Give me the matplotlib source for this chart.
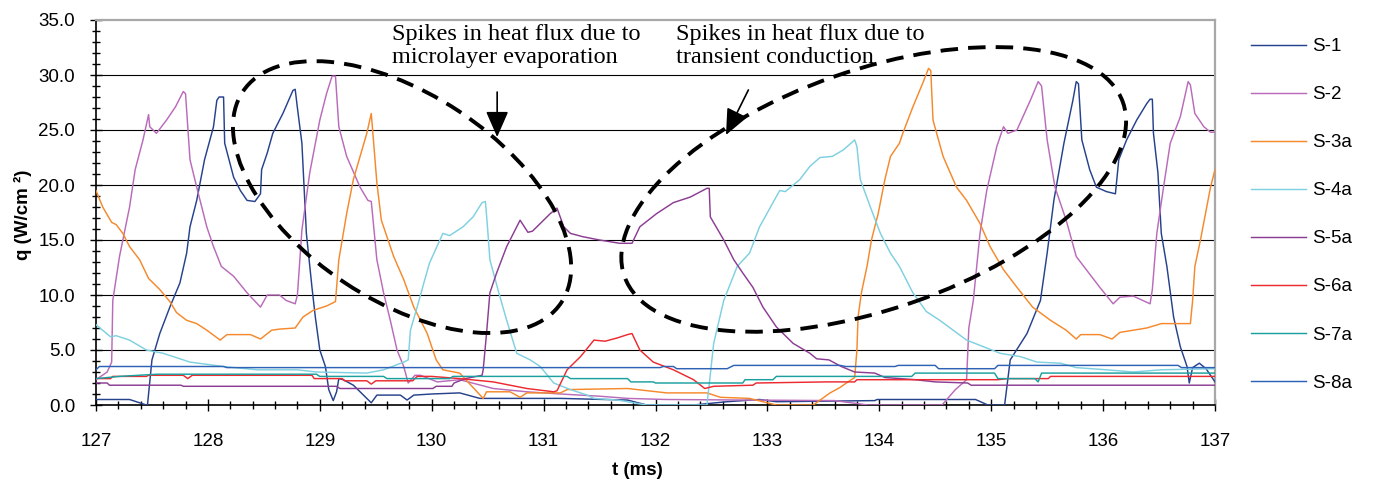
import matplotlib
matplotlib.use('Agg')
import matplotlib.pyplot as plt
from matplotlib.patches import Ellipse
from matplotlib.ticker import MultipleLocator, FormatStrFormatter
from matplotlib.transforms import ScaledTranslation

OUT_FILE = 'out.png'

# heat flux traces, t in ms, q in W/cm2
s1_t = [127.0, 127.30, 127.36, 127.45, 127.46, 127.50, 127.57, 127.66, 127.75, 127.81, 127.84, 127.90,
        127.97, 128.05, 128.08, 128.10, 128.14, 128.15, 128.23, 128.29, 128.35, 128.42, 128.47, 128.48,
        128.53, 128.58, 128.67, 128.76, 128.78, 128.80, 128.84, 128.88, 128.93, 128.96, 129.00, 129.05,
        129.08, 129.12, 129.15, 129.17, 129.21, 129.30, 129.46, 129.51, 129.72, 129.78, 129.84, 130.00,
        130.25, 130.43, 131.15, 131.75, 131.92, 132.34, 132.64, 132.93, 133.08, 133.96, 133.98, 134.86,
        134.97, 135.12, 135.17, 135.32, 135.44, 135.50, 135.56, 135.65, 135.73, 135.76, 135.78, 135.81,
        135.88, 135.94, 136.03, 136.11, 136.14, 136.21, 136.30, 136.39, 136.42, 136.44, 136.45, 136.49,
        136.52, 136.57, 136.63, 136.69, 136.75, 136.77, 136.80, 136.86, 136.92, 137.0]
s1_q = [0.5, 0.5, 0.3, 0.0, 0.0, 4.1, 6.5, 8.9, 11.1, 13.8, 16.2, 18.6,
        22.3, 25.3, 27.7, 28.0, 28.0, 23.8, 20.7, 19.5, 18.6, 18.5, 19.2, 21.4,
        22.9, 24.7, 26.5, 28.6, 28.7, 27.0, 23.8, 15.6, 10.7, 8.0, 5.0, 3.5,
        1.4, 0.4, 1.2, 2.4, 2.3, 1.8, 0.2, 0.9, 0.9, 0.45, 0.9, 1.0,
        1.1, 0.6, 0.6, 0.45, 0.0, 0.0, 0.3, 0.5, 0.3, 0.4, 0.5, 0.5,
        0.0, 0.0, 4.1, 6.5, 9.5, 13.8, 18.6, 23.8, 27.7, 29.4, 29.2, 24.1,
        21.4, 19.8, 19.4, 19.2, 22.3, 24.1, 25.9, 27.4, 27.8, 27.8, 24.7, 21.1,
        15.6, 12.6, 8.0, 5.3, 3.5, 2.0, 3.4, 3.8, 3.3, 2.1]

s2_t = [127.0, 127.10, 127.14, 127.15, 127.21, 127.30, 127.35, 127.42, 127.47, 127.48, 127.54, 127.63,
        127.71, 127.78, 127.80, 127.84, 127.90, 127.99, 128.05, 128.12, 128.23, 128.35, 128.47, 128.53,
        128.64, 128.70, 128.78, 128.80, 128.84, 128.91, 129.00, 129.06, 129.11, 129.14, 129.17, 129.24,
        129.36, 129.43, 129.46, 129.51, 129.57, 129.63, 129.69, 129.75, 129.79, 129.85, 129.90, 130.05,
        130.25, 130.55, 130.85, 131.15, 131.50, 131.75, 132.10, 132.80, 133.60, 133.90, 134.56, 134.68,
        134.78, 134.80, 134.84, 134.90, 134.96, 135.05, 135.11, 135.15, 135.23, 135.35, 135.42, 135.45,
        135.50, 135.57, 135.67, 135.76, 135.85, 135.97, 136.09, 136.15, 136.27, 136.42, 136.44, 136.48,
        136.54, 136.60, 136.69, 136.76, 136.78, 136.82, 136.90, 136.96, 137.0]
s2_q = [2.3, 3.0, 3.9, 9.5, 13.5, 18.0, 21.4, 24.1, 26.4, 25.3, 24.7, 25.9,
        27.1, 28.5, 28.3, 22.3, 19.8, 16.2, 14.4, 12.6, 11.7, 10.2, 8.9, 10.0,
        10.0, 9.5, 9.2, 10.0, 15.9, 21.1, 25.9, 28.3, 29.9, 29.9, 25.3, 22.6,
        19.8, 18.6, 18.5, 13.2, 10.2, 7.7, 5.0, 3.5, 2.0, 2.7, 2.7, 2.1,
        2.3, 1.5, 1.2, 1.0, 0.8, 0.6, 0.5, 0.45, 0.4, 0.0, 0.0, 1.4,
        2.3, 7.0, 9.5, 15.6, 19.5, 23.5, 25.3, 24.7, 25.0, 27.7, 29.4, 29.0,
        24.1, 19.8, 16.8, 13.5, 12.3, 10.7, 9.2, 9.8, 9.9, 9.2, 10.5, 15.6,
        19.8, 23.8, 26.2, 29.4, 29.1, 26.5, 25.3, 24.8, 24.8]

s3_t = [127.0, 127.06, 127.14, 127.18, 127.24, 127.30, 127.39, 127.47, 127.57, 127.66, 127.72, 127.81,
        127.90, 127.99, 128.11, 128.17, 128.38, 128.47, 128.57, 128.64, 128.78, 128.85, 128.94, 129.06,
        129.14, 129.17, 129.24, 129.30, 129.36, 129.42, 129.46, 129.48, 129.51, 129.55, 129.66, 129.75,
        129.84, 129.96, 130.04, 130.10, 130.25, 130.46, 130.49, 130.70, 130.79, 130.85, 131.15, 131.21,
        131.75, 132.10, 132.46, 132.58, 132.84, 133.00, 133.08, 133.41, 133.56, 133.65, 133.72, 133.78,
        133.80, 133.81, 133.84, 133.89, 133.93, 133.99, 134.05, 134.10, 134.14, 134.18, 134.21, 134.30,
        134.39, 134.44, 134.46, 134.48, 134.57, 134.69, 134.78, 134.90, 134.99, 135.11, 135.23, 135.37,
        135.53, 135.67, 135.76, 135.80, 135.97, 136.08, 136.15, 136.39, 136.52, 136.78, 136.80, 136.82,
        136.87, 136.96, 137.0]
s3_q = [19.5, 18.0, 16.6, 16.4, 15.6, 14.4, 13.2, 11.5, 10.5, 9.4, 8.4, 7.7,
        7.4, 6.8, 5.9, 6.4, 6.4, 6.0, 6.8, 6.9, 7.0, 8.0, 8.6, 9.0,
        9.4, 13.2, 17.4, 20.5, 22.6, 24.7, 26.5, 24.0, 20.2, 16.8, 13.5, 11.4,
        8.9, 6.5, 4.1, 3.2, 2.9, 0.6, 1.2, 1.2, 0.7, 1.1, 1.1, 1.4,
        1.5, 1.1, 1.1, 0.7, 0.6, 0.2, 0.0, 0.0, 1.1, 1.6, 2.1, 2.5,
        5.0, 8.0, 10.2, 12.6, 15.0, 17.4, 20.5, 22.6, 23.2, 23.8, 24.7, 27.1,
        29.3, 30.6, 30.4, 25.9, 22.6, 19.8, 18.6, 16.5, 14.4, 12.3, 10.7, 8.9,
        7.7, 6.8, 6.0, 6.4, 6.4, 6.0, 6.6, 7.0, 7.4, 7.4, 9.5, 12.6,
        15.0, 19.8, 21.4]

s4_t = [127.0, 127.13, 127.18, 127.30, 127.45, 127.60, 127.75, 127.84, 128.14, 128.44, 128.80, 128.97,
        129.42, 129.57, 129.75, 129.79, 129.81, 129.87, 129.93, 129.98, 130.10, 130.16, 130.28, 130.37,
        130.45, 130.48, 130.50, 130.52, 130.60, 130.67, 130.76, 130.88, 130.97, 131.09, 131.24, 131.39,
        131.45, 131.66, 131.92, 132.46, 132.52, 132.61, 132.73, 132.84, 132.93, 133.05, 133.11, 133.16,
        133.29, 133.38, 133.47, 133.58, 133.68, 133.78, 133.80, 133.83, 133.92, 134.01, 134.10, 134.18,
        134.30, 134.42, 134.54, 134.66, 134.78, 134.93, 135.08, 135.26, 135.41, 135.62, 135.76, 136.03,
        136.27, 136.52, 137.0]
s4_q = [7.3, 6.2, 6.3, 5.9, 5.0, 4.7, 4.2, 3.9, 3.5, 3.2, 3.2, 3.0,
        2.9, 3.2, 3.9, 4.1, 6.8, 8.9, 11.1, 12.9, 15.6, 15.4, 16.2, 17.1,
        18.4, 18.5, 16.0, 13.2, 10.2, 7.7, 4.7, 4.1, 3.5, 2.0, 1.4, 0.9,
        0.6, 0.45, 0.0, 0.0, 5.6, 9.5, 12.6, 13.8, 16.2, 18.4, 19.5, 19.4,
        20.5, 21.7, 22.5, 22.6, 23.2, 24.1, 23.5, 20.5, 18.0, 15.6, 13.8, 12.6,
        10.2, 8.5, 7.7, 6.8, 5.9, 5.3, 4.7, 4.4, 3.9, 3.8, 3.4, 3.2,
        3.0, 3.2, 3.3]

s5_t = [127.0, 127.10, 127.12, 127.76, 127.78, 129.15, 129.18, 130.01, 130.04, 130.18, 130.20, 130.30,
        130.45, 130.46, 130.49, 130.52, 130.58, 130.67, 130.79, 130.86, 130.90, 130.97, 131.06, 131.12,
        131.18, 131.24, 131.35, 131.50, 131.68, 131.79, 131.86, 132.01, 132.16, 132.31, 132.46, 132.48,
        132.49, 132.61, 132.70, 132.78, 132.87, 132.96, 133.08, 133.23, 133.38, 133.44, 133.55, 133.66,
        133.78, 133.96, 134.05, 134.32, 134.50, 134.79, 134.82, 137.0]
s5_q = [2.0, 2.0, 1.8, 1.8, 1.7, 1.7, 1.5, 1.5, 1.7, 1.7, 2.0, 2.4,
        2.7, 3.2, 6.5, 10.2, 12.0, 14.4, 16.8, 15.7, 15.8, 16.5, 17.4, 17.9,
        16.2, 15.6, 15.3, 15.0, 14.7, 14.7, 16.2, 17.4, 18.4, 18.9, 19.7, 19.7,
        17.1, 15.0, 13.2, 12.0, 10.7, 8.9, 7.1, 5.6, 4.7, 4.2, 4.1, 3.5,
        3.0, 2.9, 2.5, 2.3, 2.1, 2.0, 1.8, 1.8]

s6_t = [127.0, 127.13, 127.15, 127.45, 127.47, 127.78, 127.82, 127.86, 128.93, 128.95, 129.20, 129.22,
        129.42, 129.46, 129.50, 129.83, 129.87, 130.00, 130.25, 130.55, 130.70, 130.85, 131.09, 131.12,
        131.21, 131.33, 131.45, 131.55, 131.66, 131.75, 131.79, 131.86, 131.98, 132.16, 132.34, 132.44,
        132.52, 132.87, 132.90, 133.53, 133.78, 133.80, 135.06, 135.15, 135.51, 135.53, 137.0]
s6_q = [2.4, 2.4, 2.6, 2.6, 2.7, 2.7, 2.4, 2.7, 2.7, 2.4, 2.4, 2.2,
        2.2, 1.9, 2.2, 2.2, 2.6, 2.6, 2.4, 2.1, 1.8, 1.5, 1.2, 1.3,
        3.2, 4.4, 5.9, 5.8, 6.1, 6.4, 6.5, 5.0, 3.9, 3.2, 2.3, 1.5,
        1.7, 1.8, 2.0, 2.1, 2.1, 2.3, 2.3, 2.4, 2.4, 2.6, 2.6]

s7_t = [127.0, 127.21, 127.55, 128.97, 129.00, 129.57, 129.60, 130.16, 130.19, 131.21, 131.24, 131.75,
        131.78, 131.98, 132.00, 132.78, 132.80, 133.05, 133.08, 134.29, 134.32, 135.03, 135.06, 135.39,
        135.42, 135.45, 137.0]
s7_q = [2.4, 2.6, 2.8, 2.8, 2.6, 2.6, 2.4, 2.4, 2.6, 2.6, 2.4, 2.4,
        2.1, 2.1, 2.0, 2.0, 2.3, 2.3, 2.6, 2.6, 2.9, 2.9, 2.4, 2.4,
        2.1, 2.9, 2.9]

s8_t = [127.0, 127.03, 128.14, 128.17, 132.04, 132.07, 132.16, 132.19, 132.64, 132.70, 133.65, 133.70,
        134.14, 134.17, 134.50, 134.53, 135.03, 135.06, 136.67, 136.70, 137.0]
s8_q = [3.2, 3.5, 3.5, 3.4, 3.4, 3.5, 3.5, 3.3, 3.3, 3.6, 3.6, 3.5,
        3.5, 3.6, 3.6, 3.3, 3.3, 3.6, 3.6, 3.4, 3.4]

series_names = ['S-1', 'S-2', 'S-3a', 'S-4a', 'S-5a', 'S-6a', 'S-7a', 'S-8a']
series_t = [s1_t, s2_t, s3_t, s4_t, s5_t, s6_t, s7_t, s8_t]
series_q = [s1_q, s2_q, s3_q, s4_q, s5_q, s6_q, s7_q, s8_q]
series_colors = ['#26428C', '#BA6BBA', '#F5892C', '#7FD0E0', '#8C3D93', '#EC2A30', '#1AA09E', '#2E62B5']

note_left = 'Spikes in heat flux due to\nmicrolayer evaporation'
note_right = 'Spikes in heat flux due to\ntransient conduction'


def draw_dashed_ellipse(fig, ax, center, width, height, angle):
    """Dashed outline; centre in data units, size in inches so the tilt is kept."""
    trans = fig.dpi_scale_trans + ScaledTranslation(center[0], center[1], ax.transData)
    ell = Ellipse((0, 0), width, height, angle=angle, transform=trans, fill=False,
                  edgecolor='black', linewidth=2.8, linestyle=(0, (4.5, 2.6)), zorder=5)
    fig.add_artist(ell)


def make_plot(file_path):
    plt.rcParams['font.family'] = ['Liberation Sans', 'DejaVu Sans']
    fig = plt.figure(figsize=(13.74, 4.83), dpi=100)
    ax = fig.add_axes([96 / 1374, 78 / 483, 1119 / 1374, 385 / 483])

    for t, q, name, color in zip(series_t, series_q, series_names, series_colors):
        ax.plot(t, q, color=color, linewidth=1.05, label=name, zorder=3)

    ax.set_xlim(127, 137)
    ax.set_ylim(0, 35)
    ax.xaxis.set_major_locator(MultipleLocator(1))
    ax.xaxis.set_minor_locator(MultipleLocator(0.2))
    ax.yaxis.set_major_locator(MultipleLocator(5))
    ax.yaxis.set_minor_locator(MultipleLocator(1))
    ax.yaxis.set_major_formatter(FormatStrFormatter('%.1f'))
    ax.tick_params(which='major', direction='inout', length=8, width=1.0, labelsize=13.5)
    ax.tick_params(which='minor', direction='inout', length=6, width=1.0)
    ax.tick_params(axis='x', which='major', pad=16)
    ax.tick_params(axis='y', which='major', pad=11)

    for yv in range(5, 35, 5):
        ax.axhline(yv, color='black', linewidth=0.8, zorder=1)

    for side in ['left', 'bottom']:
        ax.spines[side].set_color('black')
        ax.spines[side].set_linewidth(1.2)
    for side in ['top', 'right']:
        ax.spines[side].set_color('#A8A8A8')
        ax.spines[side].set_linewidth(1.6)

    ax.set_xlabel('t (ms)', fontsize=13.5, fontweight='bold')
    ax.xaxis.set_label_coords(0.4835, -0.147)
    ax.set_ylabel('q (W/cm \u00b2)', fontsize=13.5, fontweight='bold')
    ax.yaxis.set_label_coords(-0.057, 0.4935)

    ax.legend(loc='upper left', bbox_to_anchor=(1251 / 1374, 1 - 38 / 483),
              bbox_transform=fig.transFigure, frameon=False, fontsize=13.5,
              handlelength=2.95, handletextpad=0.3, labelspacing=1.65,
              borderpad=0, borderaxespad=0)

    ax.text(129.645, 34.64, note_left, fontsize=17.5, family='Liberation Serif',
            va='top', ha='left', linespacing=1.15, zorder=6)
    ax.text(132.183, 34.64, note_right, fontsize=17.5, family='Liberation Serif',
            va='top', ha='left', linespacing=1.15, zorder=6)

    head = '-|>,head_length=0.8,head_width=0.35'
    ax.annotate('', xy=(130.585, 24.36), xytext=(130.585, 28.45),
                arrowprops=dict(arrowstyle=head, color='black', lw=1.2, mutation_scale=20,
                                shrinkA=0, shrinkB=0), zorder=6)
    ax.annotate('', xy=(132.63, 24.55), xytext=(132.83, 28.64),
                arrowprops=dict(arrowstyle=head, color='black', lw=1.2, mutation_scale=20,
                                shrinkA=0, shrinkB=0), zorder=6)

    draw_dashed_ellipse(fig, ax, (129.735, 18.9), 3.82, 2.06, -33.5)
    draw_dashed_ellipse(fig, ax, (133.95, 19.6), 5.28, 2.39, 19.2)

    fig.savefig(file_path, dpi=100)
    plt.close(fig)


if __name__ == '__main__':
    make_plot(OUT_FILE)
